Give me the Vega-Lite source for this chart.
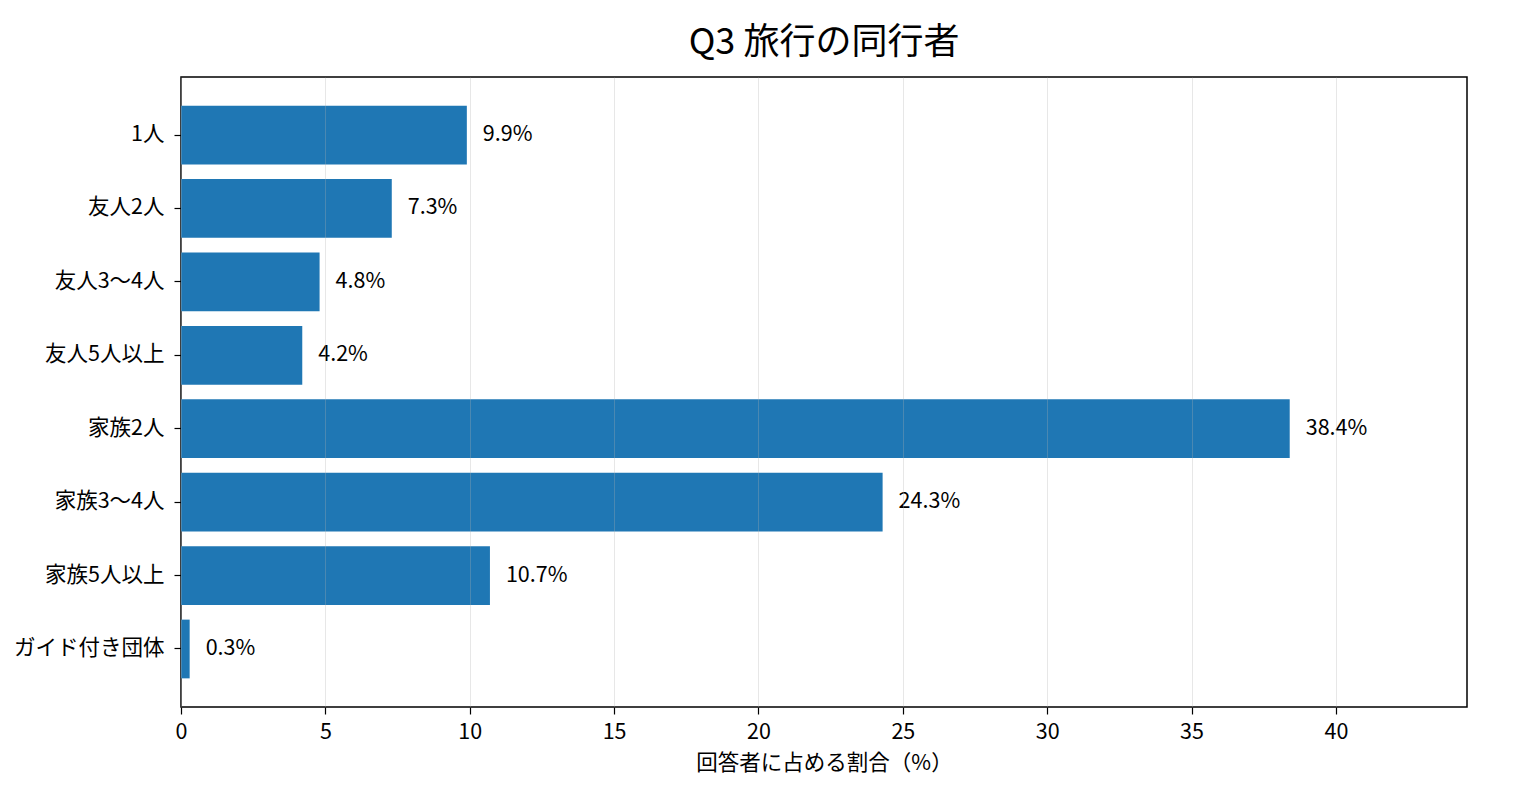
{
  "$schema": "https://vega.github.io/schema/vega-lite/v6.json",
  "autosize": "none",
  "padding": {"left": 181, "top": 77, "right": 51, "bottom": 87},
  "width": 1286,
  "height": 630,
  "background": "white",
  "title": {
    "text": "Q3 旅行の同行者",
    "fontSize": 36,
    "fontWeight": "normal",
    "font": "Noto Sans CJK JP",
    "color": "black",
    "anchor": "middle",
    "offset": 15
  },
  "data": {
    "values": [
      {"group": "1人", "share": 9.9, "label": "9.9%"},
      {"group": "友人2人", "share": 7.3, "label": "7.3%"},
      {"group": "友人3〜4人", "share": 4.8, "label": "4.8%"},
      {"group": "友人5人以上", "share": 4.2, "label": "4.2%"},
      {"group": "家族2人", "share": 38.4, "label": "38.4%"},
      {"group": "家族3〜4人", "share": 24.3, "label": "24.3%"},
      {"group": "家族5人以上", "share": 10.7, "label": "10.7%"},
      {"group": "ガイド付き団体", "share": 0.3, "label": "0.3%"}
    ]
  },
  "encoding": {
    "y": {
      "field": "group",
      "type": "nominal",
      "sort": null,
      "title": null,
      "scale": {"paddingInner": 0.2, "paddingOuter": 0.39},
      "axis": {
        "labelFontSize": 21.5,
        "labelPadding": 10,
        "tickSize": 7,
        "tickColor": "black",
        "tickWidth": 1.2,
        "domain": false,
        "grid": false
      }
    },
    "x": {
      "field": "share",
      "type": "quantitative",
      "title": "回答者に占める割合（%）",
      "scale": {"domain": [0, 44.54], "nice": false, "zero": true},
      "axis": {
        "values": [0, 5, 10, 15, 20, 25, 30, 35, 40],
        "labelFontSize": 21.5,
        "labelPadding": 7,
        "labelFlush": false,
        "titleFontSize": 21.5,
        "titleFontWeight": "normal",
        "titlePadding": 10,
        "tickSize": 7,
        "tickColor": "black",
        "tickWidth": 1.2,
        "domain": false,
        "grid": true,
        "gridColor": "#b0b0b0",
        "gridOpacity": 0.3,
        "gridWidth": 1,
        "zindex": 1
      }
    }
  },
  "layer": [
    {
      "mark": {"type": "bar", "color": "#1f77b4"}
    },
    {
      "mark": {
        "type": "text",
        "align": "left",
        "baseline": "middle",
        "dx": 16,
        "fontSize": 21.5,
        "color": "black"
      },
      "encoding": {"text": {"field": "label"}}
    }
  ],
  "config": {
    "font": "Noto Sans CJK JP",
    "view": {"stroke": "black", "strokeWidth": 1.5},
    "axis": {"labelColor": "black", "titleColor": "black"}
  }
}
